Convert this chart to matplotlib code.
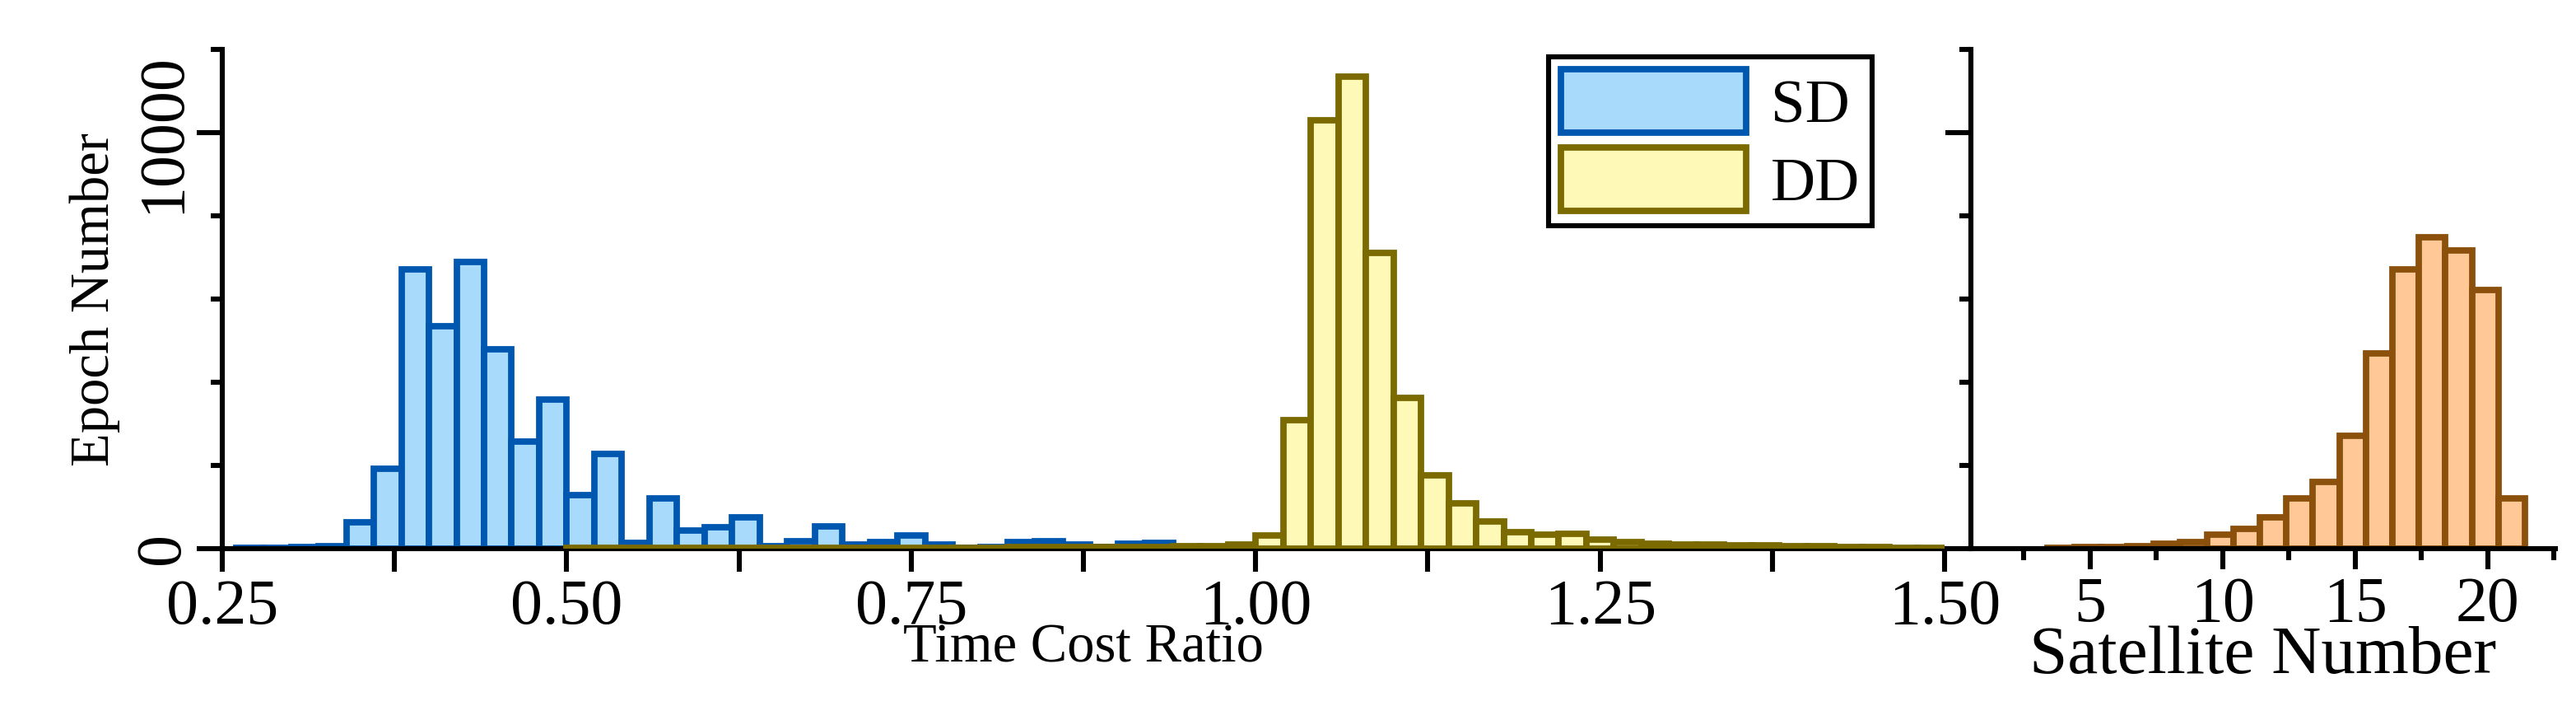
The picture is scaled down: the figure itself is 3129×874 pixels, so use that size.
import numpy as np
import matplotlib.pyplot as plt
from matplotlib.ticker import MultipleLocator, FixedLocator

plt.rcParams['font.family'] = ['Liberation Serif', 'DejaVu Serif']

# time cost ratio histograms, bin width 0.02, left edges
sd_left = np.round(np.arange(0.26, 0.96, 0.02), 2)
sd_counts = [10, 20, 40, 50, 640, 1930, 6720, 5350, 6890, 4790, 2570, 3590,
             1290, 2280, 130, 1200, 430, 510, 745, 60, 180, 530, 100, 160,
             310, 90, 20, 40, 160, 180, 100, 30, 110, 130, 30]
dd_left = np.round(np.arange(0.50, 1.50, 0.02), 2)
dd_counts = [15, 15, 15, 15, 15, 20, 20, 20, 20, 20, 20, 20, 25, 25, 25, 25,
             30, 30, 30, 30, 40, 40, 50, 60, 100,
             310, 3090, 10300, 11350, 7120, 3630, 1755, 1090, 655, 390, 340,
             355, 220, 150, 110, 100, 90, 80, 70, 60, 50, 40, 30, 25, 20]

# satellite number histogram
sat_num = np.arange(4, 22)
sat_counts = [25, 35, 45, 55, 110, 165, 330, 470, 755, 1200, 1610, 2720,
              4690, 6720, 7480, 7170, 6220, 1200]

sd_face, sd_edge = '#A8DAFB', '#0057B0'
dd_face, dd_edge = '#FFF9B8', '#7A6A00'
sat_face, sat_edge = '#FFC896', '#8B500C'

fig = plt.figure(figsize=(15.645, 4.37), dpi=200)
ax = fig.add_axes([0.0863, 0.238, 0.6686, 0.693])
ax2 = fig.add_axes([0.7651, 0.238, 0.2269, 0.693])

ax.bar(sd_left, sd_counts, width=0.02, align='edge', color=sd_face,
       edgecolor=sd_edge, linewidth=2.8, label='SD', zorder=2)
ax.bar(dd_left, dd_counts, width=0.02, align='edge', color=dd_face,
       edgecolor=dd_edge, linewidth=2.8, label='DD', zorder=3)
ax2.bar(sat_num - 0.6, sat_counts, width=1.0, align='edge', color=sat_face,
        edgecolor=sat_edge, linewidth=2.8, zorder=2)

for a in (ax, ax2):
    for s in ('top', 'right'):
        a.spines[s].set_visible(False)
    for s in ('left', 'bottom'):
        a.spines[s].set_linewidth(2.2)
    a.set_ylim(0, 12000)
    a.yaxis.set_major_locator(FixedLocator([0, 10000]))
    a.yaxis.set_minor_locator(MultipleLocator(2000))
    a.tick_params(which='both', direction='out', width=2.2)
    a.tick_params(axis='y', which='major', length=11)
    a.tick_params(axis='y', which='minor', length=5)

ax.set_xlim(0.25, 1.5)
ax.xaxis.set_major_locator(MultipleLocator(0.25))
ax.xaxis.set_minor_locator(MultipleLocator(0.125))
ax.xaxis.set_major_formatter(plt.FuncFormatter(lambda v, p: f'{v:.2f}'))
ax.tick_params(axis='x', which='both', length=10, labelsize=28, pad=3)
ax.tick_params(axis='y', labelsize=28, pad=2)
for t in ax.get_yticklabels():
    t.set_rotation(90)
    t.set_va('center')
ax.set_xlabel('Time Cost Ratio', fontsize=24, labelpad=-6)
ax.set_ylabel('Epoch Number', fontsize=24, labelpad=6)

ax.legend(loc='upper right', bbox_to_anchor=(0.958, 0.985), fontsize=27,
          frameon=True, fancybox=False, edgecolor='black', framealpha=1,
          handlelength=3.0, handleheight=1.2, borderpad=0.2,
          labelspacing=0.2, handletextpad=0.4,
          borderaxespad=0).get_frame().set_linewidth(2.2)

ax2.set_xlim(0.5, 22.55)
ax2.xaxis.set_major_locator(MultipleLocator(5))
ax2.xaxis.set_minor_locator(MultipleLocator(2.5))
ax2.tick_params(axis='x', which='major', length=9, labelsize=28, pad=3)
ax2.tick_params(axis='x', which='minor', length=5)
ax2.set_yticklabels([])
ax2.set_xlabel('Satellite Number', fontsize=30, labelpad=-4)

fig.savefig('out.png', dpi=200)
